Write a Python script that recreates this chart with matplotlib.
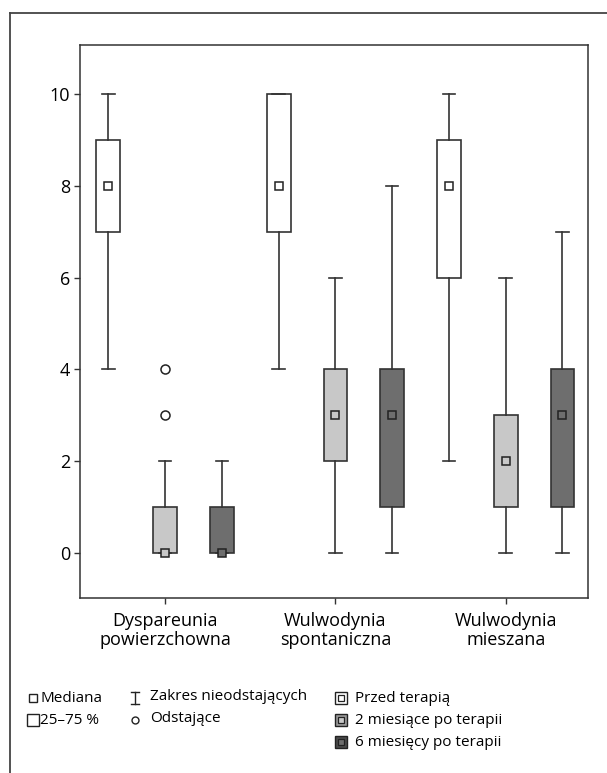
import matplotlib
matplotlib.use("Agg")
import matplotlib.pyplot as plt
from matplotlib.lines import Line2D

plt.rcParams['font.family'] = ['Open Sans', 'DejaVu Sans']

# --- data ---
groups = ["Dyspareunia\npowierzchowna", "Wulwodynia\nspontaniczna", "Wulwodynia\nmieszana"]
series = ["Przed terapią", "2 miesiące po terapii", "6 miesięcy po terapii"]
series_colors = ["#ffffff", "#c8c8c8", "#6e6e6e"]

# per group: [przed, 2 mies, 6 mies]
medians = [[8, 0, 0], [8, 3, 3], [8, 2, 3]]
q1 = [[7, 0, 0], [7, 2, 1], [6, 1, 1]]
q3 = [[9, 1, 1], [10, 4, 4], [9, 3, 4]]
whislo = [[4, 0, 0], [4, 0, 0], [2, 0, 0]]
whishi = [[10, 2, 2], [10, 6, 8], [10, 6, 7]]
outliers = [[[], [3, 4], []], [[], [], []], [[], [], []]]

yticks = [0, 2, 4, 6, 8, 10]

edge = "#333333"

fig = plt.figure(figsize=(6.07, 7.73), dpi=100)
ax = fig.add_axes([0.1318, 0.2264, 0.8369, 0.7154])

stats = []
positions = []
facecols = []
for g in range(len(groups)):
    for s in range(len(series)):
        stats.append(dict(med=medians[g][s], q1=q1[g][s], q3=q3[g][s],
                          whislo=whislo[g][s], whishi=whishi[g][s],
                          fliers=outliers[g][s]))
        positions.append(g * 3 + s)
        facecols.append(series_colors[s])

bp = ax.bxp(stats, positions=positions, widths=0.42, capwidths=0.22,
            patch_artist=True, showfliers=True,
            boxprops=dict(edgecolor=edge, linewidth=1.2),
            whiskerprops=dict(color=edge, linewidth=1.2),
            capprops=dict(color=edge, linewidth=1.2),
            medianprops=dict(linewidth=0),
            flierprops=dict(marker='o', markersize=6.5, markerfacecolor='white',
                            markeredgecolor='#222222', markeredgewidth=1.1))
for patch, c in zip(bp['boxes'], facecols):
    patch.set_facecolor(c)

# median markers: small squares
for st, pos, c in zip(stats, positions, facecols):
    ax.plot(pos, st['med'], marker='s', markersize=5.8, markerfacecolor=c,
            markeredgecolor='#222222', markeredgewidth=1.1, zorder=5)

ax.set_xlim(-0.5, 8.45)
ax.set_ylim(-0.98, 11.07)
ax.set_yticks(yticks)
ax.set_yticklabels([str(v) for v in yticks], fontsize=13)
ax.set_xticks([1, 4, 7])
ax.set_xticklabels(groups, fontsize=13, linespacing=1.05)
ax.tick_params(length=4, width=1, color=edge, pad=3)
ax.tick_params(axis='x', pad=6)
for sp in ax.spines.values():
    sp.set_color(edge)
    sp.set_linewidth(1.1)

# overlay in pixel coords for frame and legend
ov = fig.add_axes([0, 0, 1, 1], facecolor='none')
ov.set_xlim(0, 607)
ov.set_ylim(773, 0)
ov.axis('off')

ov.plot([10, 10], [13, 773], color='#444444', lw=1.3)
ov.plot([10, 607], [13, 13], color='#444444', lw=1.3)

fs = 11
# column 1
ov.plot(33, 698, marker='s', markersize=5.5, mfc='white', mec='#222222', mew=1.0)
ov.text(40, 698, "Mediana", fontsize=fs, va='center')
ov.plot(33, 720, marker='s', markersize=9, mfc='white', mec='#222222', mew=1.0)
ov.text(40, 720, "25–75 %", fontsize=fs, va='center')
# column 2
ov.add_line(Line2D([135, 135], [692, 704], color='#222222', lw=1.0))
ov.add_line(Line2D([131, 139], [692, 692], color='#222222', lw=1.0))
ov.add_line(Line2D([131, 139], [704, 704], color='#222222', lw=1.0))
ov.text(150, 697, "Zakres nieodstających", fontsize=fs, va='center')
ov.plot(135, 720, marker='o', markersize=5, mfc='white', mec='#222222', mew=1.0)
ov.text(150, 719, "Odstające", fontsize=fs, va='center')
# column 3
outer_cols = ["#ffffff", "#9a9a9a", "#4a4a4a"]
for i, (name, c, oc) in enumerate(zip(series, series_colors, outer_cols)):
    y = 698 + i * 22
    ov.plot(341, y, marker='s', markersize=9, mfc=oc, mec='#222222', mew=1.0)
    ov.plot(341, y, marker='s', markersize=4.5, mfc=c, mec='#222222', mew=0.9)
    ov.text(355, y, name, fontsize=fs, va='center')

fig.savefig("out.png", dpi=100)
